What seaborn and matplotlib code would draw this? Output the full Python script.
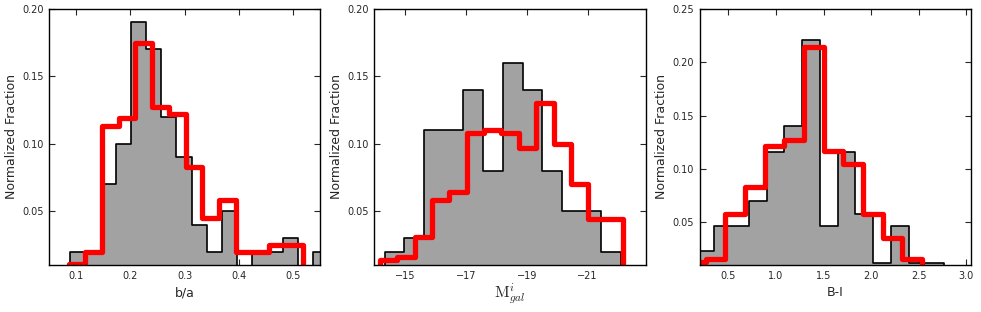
"""
Normalized-fraction histograms of b/a, M_gal and B-I
(gray filled sample vs. red comparison sample).
"""

import matplotlib
matplotlib.use("Agg")
import matplotlib.pyplot as plt
import numpy as np
import pandas as pd
import seaborn as sns

# ---------------------------------------------------------------------------
# Data (bin edges + normalized fraction per bin)
# ---------------------------------------------------------------------------
# b/a
ba_gray_edges = [0.0894, 0.1174, 0.1453, 0.1733, 0.2012, 0.2292, 0.2571, 0.2851,
                 0.3130, 0.3410, 0.3689, 0.3969, 0.4248, 0.4528, 0.4807, 0.5087,
                 0.5366, 0.5646]
ba_gray = [0.02, 0.02, 0.07, 0.10, 0.19, 0.17, 0.12, 0.09, 0.04, 0.02, 0.05,
           0.0, 0.02, 0.02, 0.03, 0.0, 0.02]
ba_red_edges = [0.0863, 0.1171, 0.1479, 0.1787, 0.2095, 0.2403, 0.2711, 0.3019,
                0.3327, 0.3635, 0.3943, 0.4251, 0.4559, 0.4867, 0.5175]
ba_red = [0.011, 0.020, 0.113, 0.119, 0.175, 0.127, 0.122, 0.083, 0.045, 0.058,
          0.020, 0.020, 0.025, 0.025]

# M_gal (ascending edges, brightest first)
mag_gray_edges = [-22.100, -21.453, -20.806, -20.159, -19.512, -18.865, -18.218,
                  -17.571, -16.924, -16.277, -15.630, -14.983, -14.336]
mag_gray = [0.02, 0.05, 0.05, 0.08, 0.14, 0.16, 0.08, 0.14, 0.11, 0.11, 0.03, 0.02]
mag_red_edges = [-22.16, -21.59, -21.02, -20.45, -19.88, -19.31, -18.74, -18.17,
                 -17.60, -17.03, -16.46, -15.89, -15.32, -14.75, -14.18]
mag_red = [0.044, 0.044, 0.070, 0.100, 0.130, 0.097, 0.108, 0.110, 0.108, 0.064,
           0.058, 0.031, 0.016, 0.014]

# B-I
bi_gray_edges = [0.158, 0.344, 0.531, 0.717, 0.904, 1.090, 1.276, 1.463, 1.649,
                 1.836, 2.022, 2.208, 2.395, 2.581, 2.768]
bi_gray = [0.023, 0.047, 0.047, 0.070, 0.116, 0.140, 0.221, 0.047, 0.116, 0.058,
           0.012, 0.047, 0.012, 0.012]
bi_red_edges = [0.055, 0.262, 0.468, 0.675, 0.882, 1.088, 1.295, 1.502, 1.709,
                1.915, 2.122, 2.329, 2.535]
bi_red = [0.013, 0.016, 0.058, 0.083, 0.122, 0.127, 0.214, 0.117, 0.105, 0.058,
          0.035, 0.016]

# ---------------------------------------------------------------------------
# Style
# ---------------------------------------------------------------------------
sns.set_style("ticks", {"xtick.direction": "in", "ytick.direction": "in"})
plt.rcParams["font.family"] = ["DejaVu Sans"]
plt.rcParams["mathtext.fontset"] = "cm"
plt.rcParams["axes.linewidth"] = 1.0

GRAY = "#a2a2a2"
RED = "#ff0000"


def draw_hist(ax, edges, values, **kws):
    """Draw a pre-binned histogram as a step outline via seaborn."""
    e = np.asarray(edges, dtype=float)
    df = pd.DataFrame({"x": 0.5 * (e[:-1] + e[1:]), "w": values})
    sns.histplot(data=df, x="x", weights="w", bins=list(edges),
                 element="step", fill=True, alpha=1, ax=ax, **kws)


panels = [
    (ba_gray_edges, ba_gray, ba_red_edges, ba_red, "b/a",
     (0.05, 0.55), (0.01, 0.20), [0.1, 0.2, 0.3, 0.4, 0.5],
     [0.05, 0.10, 0.15, 0.20]),
    (mag_gray_edges, mag_gray, mag_red_edges, mag_red, r"$\mathrm{M}^{i}_{gal}$",
     (-14.0, -22.9), (0.01, 0.20), [-15, -17, -19, -21],
     [0.05, 0.10, 0.15, 0.20]),
    (bi_gray_edges, bi_gray, bi_red_edges, bi_red, "B-I",
     (0.2, 3.05), (0.01, 0.25), [0.5, 1.0, 1.5, 2.0, 2.5, 3.0],
     [0.05, 0.10, 0.15, 0.20, 0.25]),
]

fig, axes = plt.subplots(1, 3, figsize=(9.81, 3.12), dpi=100)
fig.subplots_adjust(left=0.0499, right=0.9898, bottom=0.1506, top=0.9712,
                    wspace=0.2)

for ax, (ge, gv, re_, rv, xlabel, xlim, ylim, xt, yt) in zip(axes, panels):
    draw_hist(ax, ge, gv, color=GRAY, facecolor=GRAY, edgecolor="black",
              linewidth=1.2)
    draw_hist(ax, re_, rv, color=RED, facecolor="none", edgecolor=RED,
              linewidth=3.8)

    ax.set_xlim(*xlim)
    ax.set_ylim(*ylim)
    ax.set_xticks(xt)
    ax.set_yticks(yt)
    ax.set_yticklabels([f"{t:.2f}" for t in yt])
    ax.tick_params(which="both", direction="in", top=True, right=True,
                   length=4.5, width=0.8, labelsize=7, pad=4)
    if "$" in xlabel:
        ax.set_xlabel(xlabel, fontsize=11.5, labelpad=1)
    else:
        ax.set_xlabel(xlabel, fontsize=9)
    ax.set_ylabel("Normalized Fraction", fontsize=9, labelpad=3)
    for spine in ax.spines.values():
        spine.set_visible(True)
        spine.set_color("black")

fig.savefig("out.png", dpi=100)
plt.close(fig)
